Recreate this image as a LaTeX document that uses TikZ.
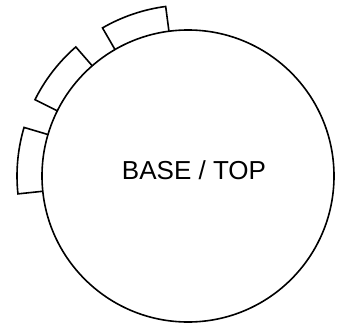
\documentclass[tikz,border=0pt]{standalone}
\usepackage{fontspec}
\setmainfont{Liberation Sans}
\begin{document}
\begin{tikzpicture}[x=1pt, y=1pt, tab/.style={draw=black, line width=1.6pt, line join=miter}]
  \pgfmathsetmacro{\rin}{146}
  \pgfmathsetmacro{\rout}{171}
  \pgfmathsetmacro{\tabw}{\rout-\rin}
  \useasboundingbox (0,0) rectangle (342,325);
  \node [circle, draw=black, line width=1.6pt, inner sep=0pt, minimum size={2*\rin pt}] (base) at (188,149) {};
  \node [font=\fontsize{26}{30}\selectfont] (label) at (194,154.5) {BASE / TOP};
  % tabs round the upper left of the base
  \foreach \a/\b in {97.5/120, 131/153.5, 163.5/186}
    \draw [tab] (base.center) ++(\a:\rin) -- ++(\a:\tabw) arc [start angle=\a, end angle=\b, radius=\rout] -- ++(\b+180:\tabw);
\end{tikzpicture}
\end{document}
